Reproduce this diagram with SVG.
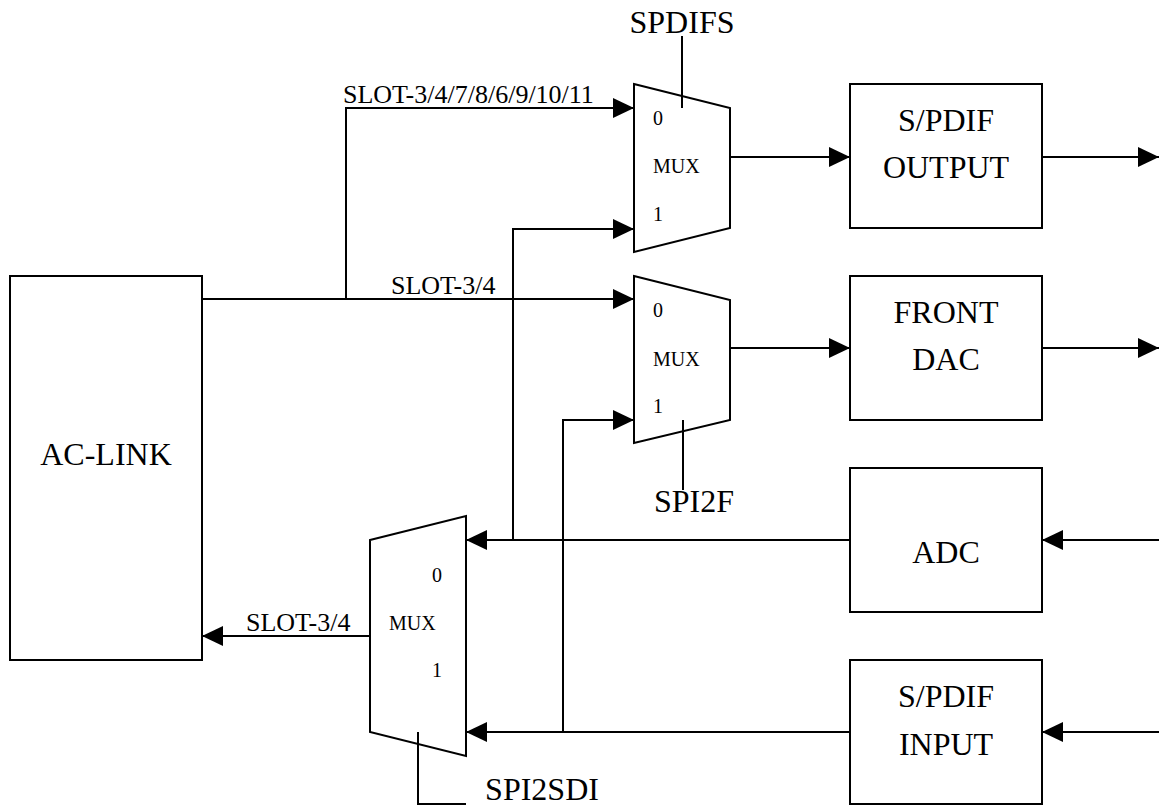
<svg xmlns="http://www.w3.org/2000/svg" width="1159" height="805" viewBox="0 0 1159 805" font-family="'Liberation Serif', Tinos, 'Times New Roman', 'Noto Serif', 'DejaVu Serif', serif">
<style>
.box{fill:#fff;stroke:#000;stroke-width:2}
.mux{fill:#fff;stroke:#000;stroke-width:2}
.ln{fill:none;stroke:#000;stroke-width:2}
.arr{marker-end:url(#ah)}
text{fill:#000}
.big{font-size:32px;text-anchor:middle}
.lbl{font-size:26px}
.ml{font-size:20px}
</style>
<defs>
<marker id="ah" markerUnits="userSpaceOnUse" markerWidth="22" markerHeight="20" viewBox="0 0 21 20" refX="21" refY="10" orient="auto">
<path d="M0,0 L21,10 L0,20 z" fill="#000"/>
</marker>
</defs>
<rect width="1159" height="805" fill="#fff"/>
<g id="connectors">
<path class="ln arr" d="M346,299 V108 H634"/>
<path class="ln arr" d="M202,299 H634"/>
<path class="ln arr" d="M513,540 V229 H634"/>
<path class="ln arr" d="M563,732 V420 H634"/>
<path class="ln arr" d="M730,157 H850"/>
<path class="ln arr" d="M1042,157 H1159"/>
<path class="ln arr" d="M730,348 H850"/>
<path class="ln arr" d="M1042,348 H1159"/>
<path class="ln arr" d="M1159,540 H1042"/>
<path class="ln arr" d="M1159,732 H1042"/>
<path class="ln arr" d="M850,540 H466"/>
<path class="ln arr" d="M850,732 H466"/>
<path class="ln arr" d="M370,636 H202"/>
<text class="lbl" x="343" y="103" font-family="Liberation Serif, serif">SLOT-3/4/7/8/6/9/10/11</text>
<text class="lbl" x="391" y="294" font-family="Liberation Serif, serif">SLOT-3/4</text>
<text class="lbl" x="246" y="631" font-family="Liberation Serif, serif">SLOT-3/4</text>
</g>
<g id="ac-link">
<rect class="box" x="10" y="276" width="192" height="384"/>
<text class="big" x="106" y="465">AC-LINK</text>
</g>
<g id="mux-spdif">
<path class="mux" d="M634,84 L730,108 L730,228 L634,252 Z"/>
<text class="ml" x="653" y="125">0</text>
<text class="ml" x="653" y="173">MUX</text>
<text class="ml" x="653" y="221">1</text>
<path class="ln" d="M682,36 V108"/>
<text class="big" x="682" y="33">SPDIFS</text>
</g>
<g id="mux-front">
<path class="mux" d="M634,276 L730,300 L730,420 L634,443 Z"/>
<text class="ml" x="653" y="317">0</text>
<text class="ml" x="653" y="366">MUX</text>
<text class="ml" x="653" y="413">1</text>
<path class="ln" d="M683,420 V490"/>
<text class="big" x="694" y="512">SPI2F</text>
</g>
<g id="mux-adc">
<path class="mux" d="M370,540 L466,516 L466,756 L370,732 Z"/>
<text class="ml" x="432" y="582">0</text>
<text class="ml" x="389" y="630">MUX</text>
<text class="ml" x="432" y="677">1</text>
<path class="ln" d="M418,732 V804 H466"/>
<text class="big" x="542" y="800">SPI2SDI</text>
</g>
<g id="spdif-output">
<rect class="box" x="850" y="84" width="192" height="144"/>
<text class="big" x="946" y="131">S/PDIF</text>
<text class="big" x="946" y="178">OUTPUT</text>
</g>
<g id="front-dac">
<rect class="box" x="850" y="276" width="192" height="144"/>
<text class="big" x="946" y="323">FRONT</text>
<text class="big" x="946" y="370">DAC</text>
</g>
<g id="adc">
<rect class="box" x="850" y="468" width="192" height="144"/>
<text class="big" x="946" y="563">ADC</text>
</g>
<g id="spdif-input">
<rect class="box" x="850" y="660" width="192" height="144"/>
<text class="big" x="946" y="707">S/PDIF</text>
<text class="big" x="946" y="755">INPUT</text>
</g>
</svg>
